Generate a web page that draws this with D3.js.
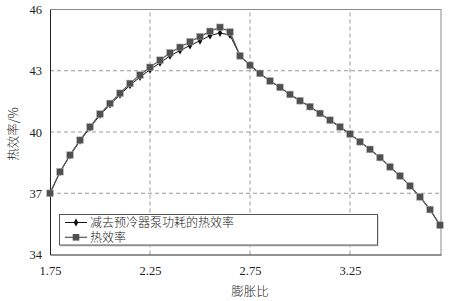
<!DOCTYPE html>
<html lang="zh">
<head>
<meta charset="UTF-8">
<title>热效率与膨胀比</title>
<script src="https://d3js.org/d3.v7.min.js"></script>
<style>
  body { margin: 0; background: #fff; }
  text { font-family: "Liberation Serif", "Noto Sans CJK SC", serif; fill: #222; }
  .cjk { font-family: "Noto Sans CJK SC", sans-serif; font-weight: 300; }
</style>
</head>
<body>
<div id="chart"></div>
<script>
// 膨胀比 1.75 .. 3.70, step 0.05
var ratios = [1.75, 1.80, 1.85, 1.90, 1.95, 2.00, 2.05, 2.10, 2.15, 2.20,
              2.25, 2.30, 2.35, 2.40, 2.45, 2.50, 2.55, 2.60, 2.65, 2.70,
              2.75, 2.80, 2.85, 2.90, 2.95, 3.00, 3.05, 3.10, 3.15, 3.20,
              3.25, 3.30, 3.35, 3.40, 3.45, 3.50, 3.55, 3.60, 3.65, 3.70];

// 热效率
var effTotal = [37.00, 38.05, 38.87, 39.60, 40.25, 40.88, 41.40, 41.90, 42.38, 42.79,
                43.17, 43.52, 43.88, 44.15, 44.42, 44.67, 44.93, 45.13, 44.90, 43.73,
                43.27, 42.87, 42.50, 42.19, 41.84, 41.53, 41.24, 40.91, 40.58, 40.25,
                39.90, 39.52, 39.15, 38.75, 38.29, 37.85, 37.36, 36.82, 36.20, 35.44];

// 减去预冷器泵功耗的热效率
var effNet = [37.00, 38.04, 38.85, 39.57, 40.21, 40.83, 41.34, 41.82, 42.29, 42.69,
              43.05, 43.39, 43.73, 43.99, 44.24, 44.47, 44.72, 44.85, 44.75, 43.73,
              43.27, 42.87, 42.50, 42.19, 41.84, 41.53, 41.24, 40.91, 40.58, 40.25,
              39.90, 39.52, 39.15, 38.75, 38.29, 37.85, 37.36, 36.82, 36.20, 35.44];

var xTicks = [1.75, 2.25, 2.75, 3.25];
var yTicks = [34, 37, 40, 43, 46];
var legendNames = ["减去预冷器泵功耗的热效率", "热效率"];

var width = 455, height = 301;
var margin = {left: 50, right: 14, top: 9.5, bottom: 46.5};

var x = d3.scaleLinear().domain([1.75, 3.705]).range([margin.left, width - margin.right]);
var y = d3.scaleLinear().domain([34, 46]).range([height - margin.bottom, margin.top]);

var svg = d3.select("#chart").append("svg")
    .attr("width", width)
    .attr("height", height);

// grid
svg.append("g").selectAll("line")
    .data(yTicks.slice(1, -1))
    .enter().append("line")
    .attr("x1", x.range()[0]).attr("x2", x.range()[1])
    .attr("y1", d => y(d)).attr("y2", d => y(d))
    .attr("stroke", "#999").attr("stroke-dasharray", "4,3");

svg.append("g").selectAll("line")
    .data(xTicks.slice(1))
    .enter().append("line")
    .attr("y1", y.range()[0]).attr("y2", y.range()[1])
    .attr("x1", d => x(d)).attr("x2", d => x(d))
    .attr("stroke", "#999").attr("stroke-dasharray", "4,3");

// frame: top and right light, left and bottom dark
svg.append("line")
    .attr("x1", x.range()[0]).attr("x2", x.range()[1])
    .attr("y1", y.range()[1]).attr("y2", y.range()[1])
    .attr("stroke", "#888");
svg.append("line")
    .attr("x1", x.range()[1]).attr("x2", x.range()[1])
    .attr("y1", y.range()[0]).attr("y2", y.range()[1])
    .attr("stroke", "#888");

// axes
var xAxis = svg.append("g")
    .attr("transform", "translate(0," + y.range()[0] + ")")
    .call(d3.axisBottom(x).tickValues(xTicks).tickSize(0).tickPadding(12).tickFormat(d3.format(".2f")));
var yAxis = svg.append("g")
    .attr("transform", "translate(" + x.range()[0] + ",0)")
    .call(d3.axisLeft(y).tickValues(yTicks).tickSize(0).tickPadding(8));

[xAxis, yAxis].forEach(function (g) {
    g.select(".domain").attr("stroke", "#222");
    g.selectAll("text").attr("font-size", 12.5).attr("font-family", "Liberation Serif").attr("fill", "#222");
});

// axis titles
svg.append("text")
    .attr("class", "cjk")
    .attr("x", 250).attr("y", 296)
    .attr("text-anchor", "middle")
    .attr("font-size", 12.5)
    .text("膨胀比");

svg.append("text")
    .attr("class", "cjk")
    .attr("transform", "translate(18,134) rotate(-90)")
    .attr("text-anchor", "middle")
    .attr("font-size", 12.5)
    .text("热效率/%");

// series
var netData = ratios.map((r, i) => [r, effNet[i]]);
var totData = ratios.map((r, i) => [r, effTotal[i]]);
var line = d3.line().x(d => x(d[0])).y(d => y(d[1]));

svg.append("path").datum(netData)
    .attr("d", line).attr("fill", "none")
    .attr("stroke", "#111").attr("stroke-width", 1);
svg.append("g").selectAll("path")
    .data(netData)
    .enter().append("path")
    .attr("d", d3.symbol().type(d3.symbolDiamond).size(18))
    .attr("transform", d => "translate(" + x(d[0]) + "," + y(d[1]) + ")")
    .attr("fill", "#111");

svg.append("path").datum(totData)
    .attr("d", line).attr("fill", "none")
    .attr("stroke", "#555").attr("stroke-width", 1.2);
svg.append("g").selectAll("rect")
    .data(totData)
    .enter().append("rect")
    .attr("x", d => x(d[0]) - 3.3).attr("y", d => y(d[1]) - 3.3)
    .attr("width", 6.6).attr("height", 6.6)
    .attr("fill", "#505050").attr("stroke", "#aaa").attr("stroke-width", 0.5);

// legend
var lg = svg.append("g");
lg.append("rect")
    .attr("x", 60.5).attr("y", 215.5).attr("width", 318).attr("height", 31)
    .attr("fill", "#ccc");
lg.append("rect")
    .attr("x", 59.5).attr("y", 214.5).attr("width", 318).attr("height", 30.5)
    .attr("fill", "#fff").attr("stroke", "#555");

var rows = lg.selectAll("g.row")
    .data(legendNames)
    .enter().append("g")
    .attr("transform", (d, i) => "translate(0," + (222.5 + i * 14.8) + ")");
rows.append("line")
    .attr("x1", 65).attr("x2", 87)
    .attr("stroke", (d, i) => i === 0 ? "#111" : "#555")
    .attr("stroke-width", (d, i) => i === 0 ? 1 : 1.2);
rows.filter((d, i) => i === 0).append("path")
    .attr("d", d3.symbol().type(d3.symbolDiamond).size(18))
    .attr("transform", "translate(76,0)")
    .attr("fill", "#111");
rows.filter((d, i) => i === 1).append("rect")
    .attr("x", 72.7).attr("y", -3.3).attr("width", 6.6).attr("height", 6.6)
    .attr("fill", "#505050");
rows.append("text")
    .attr("class", "cjk")
    .attr("x", 90).attr("y", 4.3)
    .attr("font-size", 12)
    .text(d => d);
</script>
</body>
</html>
